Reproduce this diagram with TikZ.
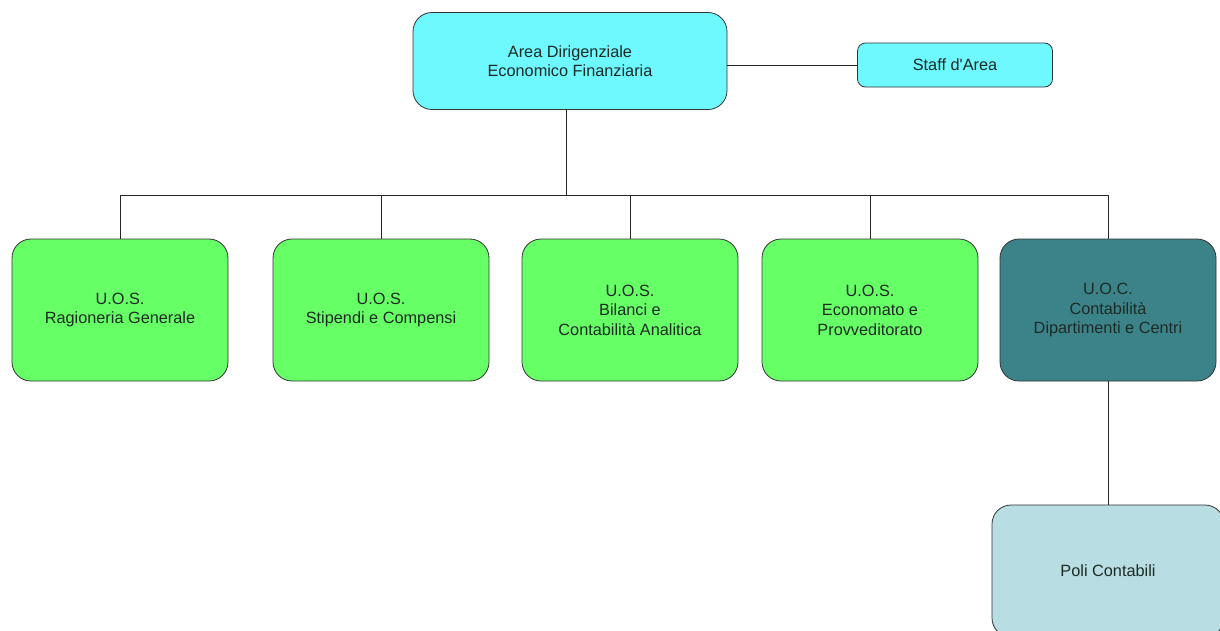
\documentclass[tikz,border=0pt]{standalone}
\usepackage{fontspec}
\setmainfont{Liberation Sans}
\usepackage{tikz}
\usetikzlibrary{positioning}
\definecolor{areacyan}{HTML}{6EF8FF}
\definecolor{uosgreen}{HTML}{66FF66}
\definecolor{uocteal}{HTML}{3C8389}
\definecolor{polilight}{HTML}{B8DEE3}
\definecolor{ink}{HTML}{1E2A24}
\tikzstyle{unit}=[draw=black!80,rounded corners=19pt,align=center,text=ink,
  font=\fontsize{16.3}{19.5}\selectfont,inner sep=0pt]
\tikzstyle{uos}=[unit,fill=uosgreen,minimum width=216pt,minimum height=142pt]

\begin{document}
\begin{tikzpicture}[x=1pt,y=-1pt,thick]
\tikzstyle{link}=[draw=black!85,line width=0.9pt]
    \useasboundingbox (0,0) rectangle (1220,630);
    \clip (0,0) rectangle (1220,630);
    \fill[white] (0,0) rectangle (1220,630);
    % vertice
    \node [unit,fill=areacyan,minimum width=314pt,minimum height=97pt] (area) at (570,61)
      {Area Dirigenziale\\Economico Finanziaria};
    \node [unit,fill=areacyan,rounded corners=8pt,minimum width=195pt,minimum height=44pt] (staff) at (955,65)
      {Staff d\textquotesingle Area};
    % unita
    \node [uos] (rag) at (120,310) {U.O.S.\\Ragioneria Generale};
    \node [uos] (stip) at (381,310) {U.O.S.\\Stipendi e Compensi};
    \node [uos] (bil) at (630,310) {U.O.S.\\Bilanci e\\Contabilit\`a Analitica};
    \node [uos] (eco) at (870,310) {U.O.S.\\Economato e\\Provveditorato};
    \node [uos,fill=uocteal] (uoc) at (1108,310) {U.O.C.\\Contabilit\`a\\Dipartimenti e Centri};
    \node [unit,fill=polilight,minimum width=232pt,minimum height=132pt] (poli) at (1108,571)
      {Poli Contabili};
    % collegamenti
    \draw [link] (staff.west) -- (staff.west -| area.east);
    \coordinate (bus) at (566,195);
    \draw [link] (area.south -| bus) -- (bus);
    \foreach \u in {rag,stip,bil,eco,uoc}
      \draw [link] (bus) -| (\u.north);
    \draw [link] (uoc.south) -- (poli.north);
\end{tikzpicture}
\end{document}
